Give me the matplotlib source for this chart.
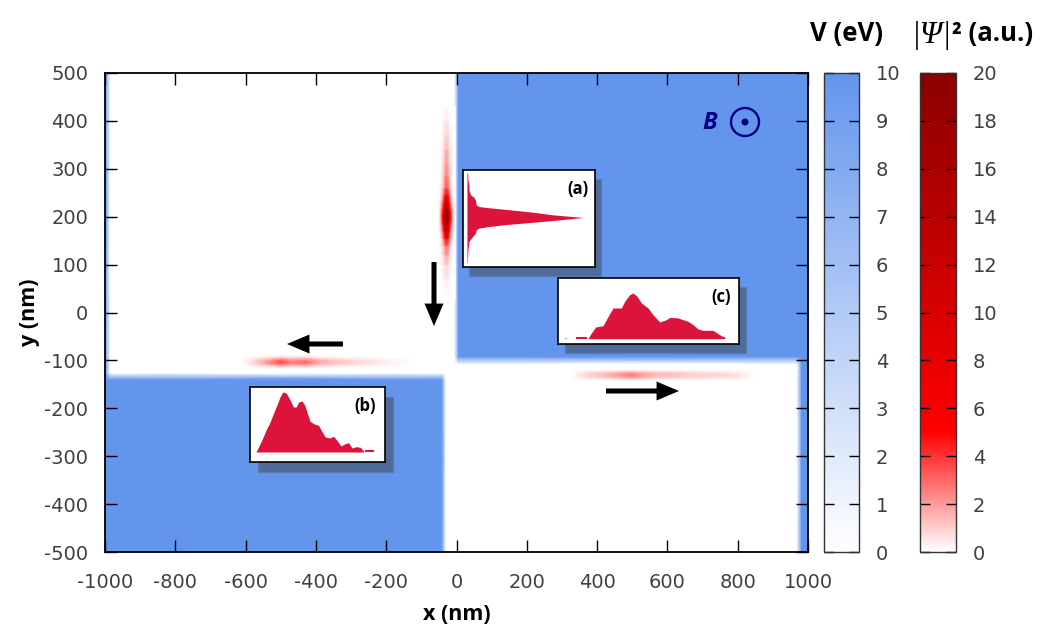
import numpy as np
import matplotlib as mp
from matplotlib import pyplot as plt
from matplotlib.colors import LinearSegmentedColormap, Normalize
from matplotlib.patches import Circle, Rectangle

W, H = 1050, 637

# potential map, knots in nm
v_x = [-1000, -985, -968, -42, -30, -6, 6, 968, 982, 1000]
v_y = [-500, -140, -126, -108, -92, 500]
v_map = [
    [10, 10, 10, 10, 0, 0, 0, 0, 10, 10],
    [10, 10, 10, 10, 0, 0, 0, 0, 10, 10],
    [10, 0, 0, 0, 0, 0, 0, 0, 10, 10],
    [10, 0, 0, 0, 0, 0, 0, 0, 10, 10],
    [10, 0, 0, 0, 0, 0, 10, 10, 10, 10],
    [10, 0, 0, 0, 0, 0, 10, 10, 10, 10],
]

# edge states, intensity along the channel and relative weight across it
a_y = [30, 70, 100, 120, 140, 155, 170, 185, 200, 215, 230, 245, 260, 285, 310, 340, 370, 400, 430]
a_psi = [0, 0.4, 1.0, 1.8, 3, 6, 10, 16, 20, 16, 10, 6, 3.5, 2.5, 2, 1.5, 0.9, 0.5, 0]
a_off = [-24, -18, -12, -7, -3, 0, 3, 7, 12, 18, 24]
a_cross = [0, 0.06, 0.25, 0.62, 0.9, 1, 0.9, 0.62, 0.25, 0.06, 0]

b_x = [-610, -590, -560, -530, -500, -470, -430, -390, -340, -290, -240, -190, -130]
b_psi = [0, 0.5, 1.4, 2.4, 3.6, 2.5, 2.9, 1.7, 1.2, 0.8, 0.6, 0.3, 0]
b_off = [-14, -10, -6, -3, 0, 3, 6, 10, 14]
b_cross = [0, 0.25, 0.65, 0.92, 1, 0.92, 0.65, 0.25, 0]

c_x = [330, 350, 380, 420, 460, 495, 530, 570, 620, 670, 720, 770, 810, 845]
c_psi = [0, 0.5, 1.0, 1.4, 2.0, 2.6, 1.9, 1.4, 1.3, 1.0, 0.9, 0.8, 0.5, 0]
c_off = [-12, -9, -6, -3, 0, 3, 6, 9, 12]
c_cross = [0, 0.25, 0.65, 0.92, 1, 0.92, 0.65, 0.25, 0]

# inset profiles, read in 3x crop pixels of the reference
ins_a_y = [248, 270, 285, 300, 315, 322, 332, 345, 350, 353, 358, 366, 375, 383,
           392, 398, 405, 411, 415, 420, 430, 445, 455, 480, 518]
ins_a_x = [81, 82, 85, 85, 90, 100, 105, 107, 115, 140, 190, 270, 340, 432,
           340, 270, 190, 140, 115, 107, 105, 92, 85, 82, 80]
ins_b_x = [78, 95, 110, 118, 130, 140, 150, 158, 168, 178, 190, 198, 206, 216, 224, 232,
           240, 250, 265, 275, 285, 298, 310, 320, 332, 345, 355, 365, 378, 390, 400]
ins_b_y = [367, 332, 297, 282, 252, 227, 202, 187, 190, 207, 232, 232, 217, 214, 227, 252,
           275, 282, 287, 305, 322, 325, 320, 332, 349, 342, 339, 355, 351, 353, 364]
ins_c_x = [445, 455, 468, 490, 500, 510, 520, 545, 555, 570, 580, 592, 605, 625,
           640, 660, 680, 690, 715, 745, 760, 775, 790, 820, 835, 845, 855]
ins_c_y = [747, 730, 712, 708, 690, 672, 655, 655, 635, 615, 610, 620, 640, 655,
           675, 697, 690, 683, 685, 695, 705, 718, 722, 722, 732, 738, 742]

# tick labels
x_ticks = [-1000, -800, -600, -400, -200, 0, 200, 400, 600, 800, 1000]
y_ticks = [-500, -400, -300, -200, -100, 0, 100, 200, 300, 400, 500]
v_ticks = [0, 1, 2, 3, 4, 5, 6, 7, 8, 9, 10]
psi_ticks = [0, 2, 4, 6, 8, 10, 12, 14, 16, 18, 20]

TICK_GREY = "#404040"
INSET_RED = "#dc143c"
SHADOW = "#4f6b99"

mp.rcParams["font.family"] = ["DejaVu Sans"]
mp.rcParams["axes.unicode_minus"] = False

v_cmap = LinearSegmentedColormap.from_list("v", ["#ffffff", "#6495ed"])
psi_cmap = LinearSegmentedColormap.from_list(
    "psi", [(0, "#ffffff"), (0.25, "#ff0000"), (1, "#8b0000")]
)
v_norm = Normalize(0, 10)
psi_norm = Normalize(0, 20)


def px_axes(x0, y0, x1, y1, **kwargs):
    """Axes from reference pixel coordinates (y downwards)."""
    return figure.add_axes(
        [x0 / W, 1 - y1 / H, (x1 - x0) / W, (y1 - y0) / H], **kwargs
    )


def inset(box, shadow, xlim, ylim, label, lx, ly):
    """White box with a drop shadow, the axes use crop pixels."""
    x0, y0, x1, y1 = box
    figure.add_artist(
        Rectangle(
            (shadow[0] / W, 1 - (y1 + shadow[1]) / H),
            (x1 - x0) / W,
            (y1 - y0) / H,
            transform=figure.transFigure,
            facecolor=SHADOW,
            edgecolor="#5a7ab0",
            linewidth=1.0,
            zorder=3,
        )
    )
    ax = px_axes(x0, y0, x1, y1, zorder=4)
    ax.set_xlim(*xlim)
    ax.set_ylim(*ylim)
    ax.set_xticks([])
    ax.set_yticks([])
    for spine in ax.spines.values():
        spine.set_linewidth(1.2)
    ax.text(lx, ly, label, fontsize=12, fontweight="bold", family="Open Sans",
            ha="center", va="center")
    return ax


def arrow(x0, y0, x1, y1):
    main.annotate(
        "",
        xy=(x1 / W, 1 - y1 / H),
        xytext=(x0 / W, 1 - y0 / H),
        xycoords="figure fraction",
        textcoords="figure fraction",
        arrowprops=dict(
            arrowstyle="simple,tail_width=0.19,head_width=0.72,head_length=0.85",
            mutation_scale=19,
            facecolor="black",
            edgecolor="none",
            linewidth=0,
            shrinkA=0,
            shrinkB=0,
        ),
        zorder=6,
    )


figure = plt.figure(figsize=(W / 100, H / 100), dpi=100)

main = px_axes(105, 73, 808, 552)
main.pcolormesh(v_x, v_y, np.array(v_map), shading="gouraud", cmap=v_cmap, norm=v_norm)
main.pcolormesh([-28 + o for o in a_off], a_y, np.outer(a_psi, a_cross),
                shading="gouraud", cmap=psi_cmap, norm=psi_norm)
main.pcolormesh(b_x, [-103 + o for o in b_off], np.outer(b_cross, b_psi),
                shading="gouraud", cmap=psi_cmap, norm=psi_norm)
main.pcolormesh(c_x, [-130 + o for o in c_off], np.outer(c_cross, c_psi),
                shading="gouraud", cmap=psi_cmap, norm=psi_norm)
main.set_xlim(-1000, 1000)
main.set_ylim(-500, 500)
main.set_xticks(x_ticks)
main.set_yticks(y_ticks)
main.tick_params(axis="both", direction="in", top=True, right=True, length=8.5, width=1,
                 labelsize=14, labelcolor=TICK_GREY)
main.tick_params(axis="x", pad=15)
main.tick_params(axis="y", pad=12)
for spine in main.spines.values():
    spine.set_linewidth(1.3)
main.set_xlabel("x (nm)", fontsize=15.5, fontweight="bold", family="Open Sans", labelpad=9)
main.set_ylabel("y (nm)", fontsize=15.5, fontweight="bold", family="Open Sans", labelpad=3)
main.set_zorder(2)

# colour bars
for box, cmap, norm, ticks in [
    ((824, 73, 859, 552), v_cmap, v_norm, v_ticks),
    ((920, 73, 956, 552), psi_cmap, psi_norm, psi_ticks),
]:
    cax = px_axes(*box)
    bar = figure.colorbar(mp.cm.ScalarMappable(norm=norm, cmap=cmap), cax=cax)
    bar.set_ticks(ticks)
    bar.outline.set_linewidth(1)
    bar.outline.set_edgecolor("#333333")
    cax.tick_params(direction="in", left=True, right=True, length=7, width=1,
                    labelsize=14, labelcolor=TICK_GREY, pad=12)

figure.text(847 / W, 1 - 33 / H, "V (eV)", fontsize=18.5, fontweight="bold",
            family="Open Sans", ha="center", va="center")
figure.text(912 / W, 1 - 35 / H, "|Ψ|", fontsize=23, family="Liberation Serif",
            style="italic", ha="left", va="center")
figure.text(952 / W, 1 - 33 / H, "² (a.u.)", fontsize=18.5, fontweight="bold",
            family="Open Sans", ha="left", va="center")

# field symbol
figure.text(710 / W, 1 - 123 / H, "B", fontsize=17, fontweight="bold", style="italic",
            family="Open Sans", color="#000080", ha="center", va="center", zorder=5)
figure.add_artist(Circle((745, H - 122), 14, transform=None, fill=False,
                         edgecolor="#000080", linewidth=1.7, zorder=5))
figure.add_artist(Circle((745, H - 122), 3.5, transform=None, facecolor="#000080",
                         edgecolor="none", zorder=5))

# insets
ax_a = inset((463, 170, 595, 267), (469, 9), (67, 467), (532, 240), "(a)", 414, 296)
ax_a.fill_betweenx(ins_a_y, 79, ins_a_x, color=INSET_RED, linewidth=0)

ax_b = inset((250, 387, 385, 462), (258, 10), (60, 464), (397, 172), "(b)", 405, 230)
ax_b.fill_between(ins_b_x, 367, ins_b_y, color=INSET_RED, linewidth=0)
ax_b.plot([408, 428], [364, 364], color=INSET_RED, lw=1.5)

ax_c = inset((558, 278, 739, 344), (565, 9), (355, 898), (763, 565), "(c)", 843, 623)
ax_c.fill_between(ins_c_x, 747, ins_c_y, color=INSET_RED, linewidth=0)
ax_c.plot([412, 438], [744, 744], color=INSET_RED, lw=1.5)
ax_c.plot([375, 380], [745, 745], color="#f4a0b0", lw=1)

arrow(434, 262, 434, 326)
arrow(343, 344, 287, 344)
arrow(606, 391, 679, 391)

figure.savefig("out.png", dpi=100)
